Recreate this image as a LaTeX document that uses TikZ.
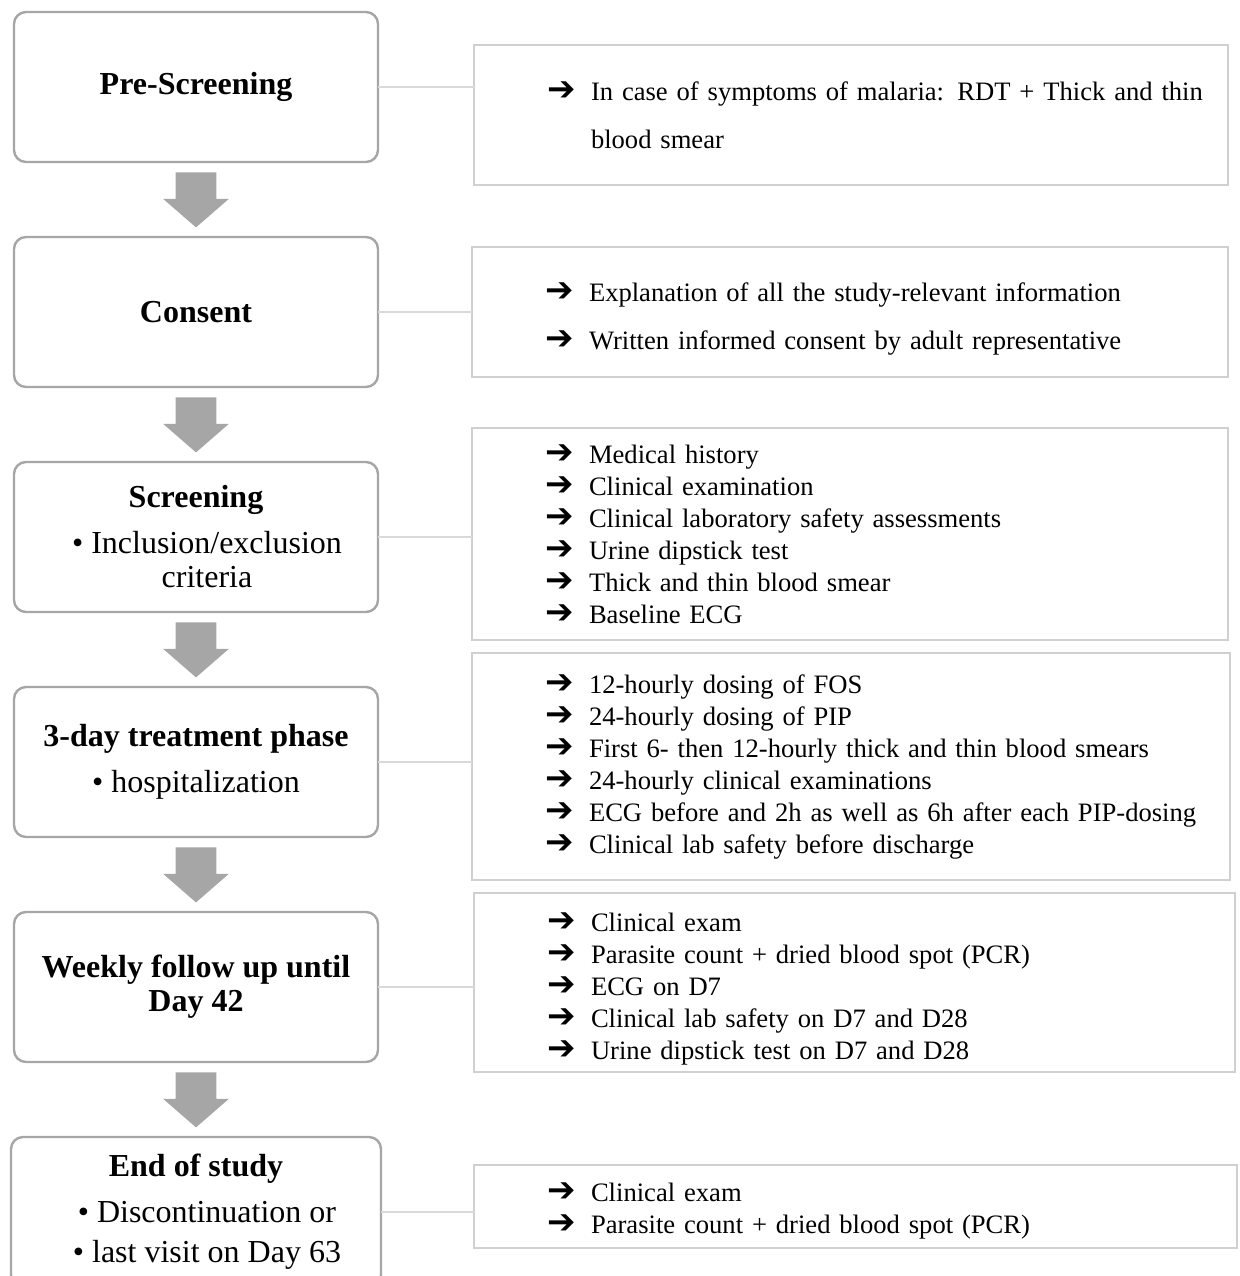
\documentclass[tikz,border=0pt]{standalone}
\usepackage{fontspec}
\setmainfont{Liberation Serif}
\newfontfamily\arrowfont{DejaVu Sans}
\usepackage{xcolor}
\usepackage{tikz}
\usetikzlibrary{shapes.arrows, positioning, calc}

\definecolor{stagegray}{HTML}{A6A6A6}
\definecolor{infogray}{HTML}{D0D0D0}
\definecolor{linkgray}{HTML}{D9D9D9}
\newcommand{\bulletarrow}{{\arrowfont\bfseries\fontsize{17}{16}\selectfont\char"2794}}
\newcommand{\itm}[1]{\hspace*{36.5pt}\makebox[22pt][l]{\bulletarrow}#1}

\begin{document}
\begin{tikzpicture}[
  x=0.5pt, y=-0.5pt,
  stagebox/.style={rectangle, rounded corners=6pt, minimum width=182pt, minimum height=75pt, inner sep=0pt, outer sep=0pt, draw=stagegray, line width=1.2pt, fill=white, align=center, font=\fontsize{16}{17}\selectfont},
  infobox/.style={rectangle, anchor=north west, inner sep=0pt, outer sep=0pt, draw=infogray, line width=1pt, align=left, font=\fontsize{13.3}{16}\selectfont},
  blockarrow/.style={single arrow, rotate=-90, anchor=tail, fill=stagegray, draw=none, inner xsep=0pt, inner ysep=10pt, minimum height=27.5pt, single arrow head extend=6.25pt, single arrow tip angle=98, single arrow head indent=0pt},
  link/.style={draw=linkgray, line width=0.6pt}
]
\useasboundingbox (0,0) rectangle (1240,1276);

% stages
\node (pre) [stagebox] at (196,87) {\textbf{Pre-Screening}};
\node (consent) [stagebox, below=37.5pt of pre] {\textbf{Consent}};
\node (screen) [stagebox, below=37.5pt of consent] {\textbf{Screening}\\[6pt]\hspace*{11pt}\textbullet\ Inclusion/exclusion\\\hspace*{11pt}criteria};
\node (treat) [stagebox, below=37.5pt of screen] {\textbf{3-day treatment phase}\\[6pt]\textbullet\ hospitalization};
\node (weekly) [stagebox, below=37.5pt of treat] {\textbf{Weekly follow up until}\\\textbf{Day 42}};
\node (final) [stagebox, minimum width=185pt, below=37.5pt of weekly] {\textbf{End of study}\\[6pt]\hspace*{11pt}\textbullet\ Discontinuation or\\[3pt]\hspace*{11pt}\textbullet\ last visit on Day 63};

% block arrows
\node (a1) [blockarrow] at ($(pre.south)+(0,10)$) {};
\node (a2) [blockarrow] at ($(consent.south)+(0,10)$) {};
\node (a3) [blockarrow] at ($(screen.south)+(0,10)$) {};
\node (a4) [blockarrow] at ($(treat.south)+(0,10)$) {};
\node (a5) [blockarrow] at ($(weekly.south)+(0,10)$) {};

% details
\node (info1) [infobox, text width=377pt, minimum height=70pt] at (474,45) {\itm{\makebox[308pt][s]{In case of symptoms of malaria: RDT + Thick and thin}}\\[8pt]\hspace*{58.5pt}blood smear};
\node (info2) [infobox, text width=378pt, minimum height=65pt] at (472,247) {\rule{0pt}{16pt}\itm{Explanation of all the study-relevant information}\\[8pt]\itm{Written informed consent by adult representative}};
\node (info3) [infobox, text width=378pt, minimum height=106pt] at (472,428) {\itm{Medical history}\\\itm{Clinical examination}\\\itm{Clinical laboratory safety assessments}\\\itm{Urine dipstick test}\\\itm{Thick and thin blood smear}\\\itm{Baseline ECG}};
\node (info4) [infobox, text width=379pt, minimum height=113.5pt] at (472,653) {\itm{12-hourly dosing of FOS}\\\itm{24-hourly dosing of PIP}\\\itm{First 6- then 12-hourly thick and thin blood smears}\\\itm{24-hourly clinical examinations}\\\itm{ECG before and 2h as well as 6h after each PIP-dosing}\\\itm{Clinical lab safety before discharge}};
\node (info5) [infobox, text width=380.5pt, minimum height=89.5pt] at (474,893) {\rule{0pt}{16pt}\itm{Clinical exam}\\\itm{Parasite count + dried blood spot (PCR)}\\\itm{ECG on D7}\\\itm{Clinical lab safety on D7 and D28}\\\itm{Urine dipstick test on D7 and D28}};
\node (info6) [infobox, text width=381.5pt, minimum height=41.5pt] at (474,1165) {\rule{0pt}{14pt}\itm{Clinical exam}\\\itm{Parasite count + dried blood spot (PCR)}};

\draw [link] (pre.east) -- (pre.east -| info1.west);
\draw [link] (consent.east) -- (consent.east -| info2.west);
\draw [link] (screen.east) -- (screen.east -| info3.west);
\draw [link] (treat.east) -- (treat.east -| info4.west);
\draw [link] (weekly.east) -- (weekly.east -| info5.west);
\draw [link] (final.east) -- (final.east -| info6.west);
\end{tikzpicture}
\end{document}
